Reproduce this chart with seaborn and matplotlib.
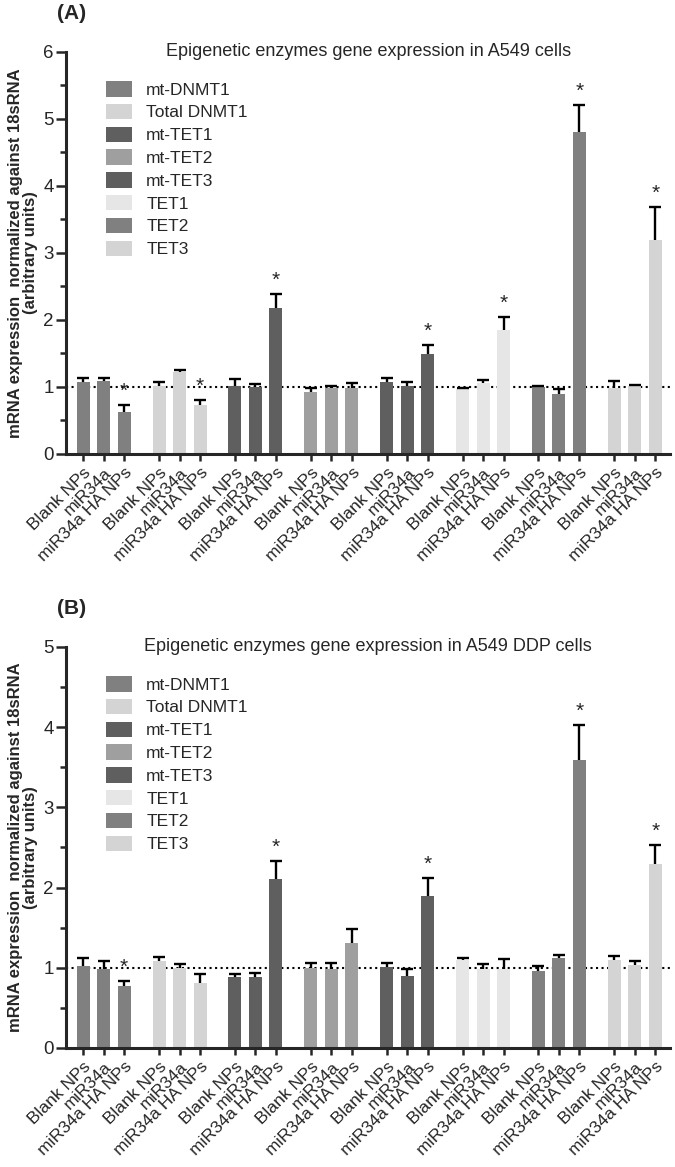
import numpy as np
import pandas as pd
import matplotlib
matplotlib.use('Agg')
import matplotlib.pyplot as plt
import seaborn as sns
from matplotlib.patches import Patch
from matplotlib.ticker import MultipleLocator

sns.set_style('ticks')
plt.rcParams['font.family'] = ['Liberation Sans', 'DejaVu Sans']

# Genes (one group of 3 bars each) and treatments
genes = ["mt-DNMT1", "Total DNMT1", "mt-TET1", "mt-TET2", "mt-TET3", "TET1", "TET2", "TET3"]
treatments = ["Blank NPs", "miR34a", "miR34a HA NPs"]
gene_colors = ["#808080", "#d4d4d4", "#5f5f5f", "#9f9f9f", "#5f5f5f", "#e6e6e6", "#808080", "#d4d4d4"]

# (A) A549 cells
a_mean = [1.08, 1.09, 0.63, 1.02, 1.22, 0.73, 1.02, 1.00, 2.18, 0.93, 0.99, 0.98,
          1.08, 1.02, 1.49, 0.97, 1.06, 1.85, 1.00, 0.90, 4.81, 0.99, 1.01, 3.19]
a_err = [0.05, 0.05, 0.10, 0.05, 0.03, 0.08, 0.10, 0.04, 0.21, 0.05, 0.02, 0.08,
         0.05, 0.05, 0.14, 0.02, 0.04, 0.19, 0.01, 0.07, 0.40, 0.10, 0.02, 0.50]
a_star = [0, 0, 1, 0, 0, 1, 0, 0, 1, 0, 0, 0, 0, 0, 1, 0, 0, 1, 0, 0, 1, 0, 0, 1]

# (B) A549 DDP cells
b_mean = [1.02, 0.99, 0.77, 1.08, 1.00, 0.81, 0.89, 0.89, 2.11, 1.00, 0.99, 1.31,
          1.01, 0.90, 1.89, 1.10, 0.99, 0.99, 0.96, 1.12, 3.59, 1.10, 1.03, 2.29]
b_err = [0.10, 0.09, 0.06, 0.05, 0.05, 0.11, 0.03, 0.04, 0.22, 0.06, 0.07, 0.17,
         0.05, 0.09, 0.23, 0.02, 0.06, 0.12, 0.06, 0.04, 0.44, 0.05, 0.06, 0.24]
b_star = [0, 0, 1, 0, 0, 0, 0, 0, 1, 0, 0, 0, 0, 0, 1, 0, 0, 0, 0, 0, 1, 0, 0, 1]

group_step = 3.7  # distance between groups in bar units


def make_df(mean, err):
    rows = []
    for k, g in enumerate(genes):
        for i, t in enumerate(treatments):
            rows.append({'gene': g, 'treatment': t, 'pos': k * group_step + i,
                         'value': mean[k * 3 + i], 'err': err[k * 3 + i]})
    return pd.DataFrame(rows)


def draw_panel(ax, df, stars, title, ymax, letter):
    sns.barplot(data=df, x='pos', y='value', hue='gene', hue_order=genes,
                palette=gene_colors, native_scale=True, dodge=False, width=0.63,
                linewidth=0, errorbar=None, legend=False, ax=ax)
    # upper-only error bars (hide the lower cap)
    _, caps, _ = ax.errorbar(df['pos'], df['value'], yerr=[np.zeros(len(df)), df['err']],
                             fmt='none', ecolor='black', elinewidth=1.7, capsize=4,
                             capthick=1.7, zorder=3)
    caps[0].set_visible(False)
    for p, v, e, s in zip(df['pos'], df['value'], df['err'], stars):
        if s:
            ax.annotate('*', (p, v + e), xytext=(0, 3), textcoords='offset points',
                        ha='center', va='bottom', fontsize=15)
    ax.axhline(1, color='black', linestyle=':', linewidth=1.5, zorder=0)

    ax.set_xlim(-0.83, df['pos'].max() + 0.73)
    ax.set_ylim(0, ymax)
    ax.yaxis.set_major_locator(MultipleLocator(1))
    ax.yaxis.set_minor_locator(MultipleLocator(0.5))
    ax.set_xticks(df['pos'])
    ax.set_xticklabels(df['treatment'], rotation=45, ha='right', rotation_mode='anchor',
                       fontsize=12.5)
    ax.tick_params(axis='x', length=5, width=1.8, pad=3)
    ax.tick_params(axis='y', which='major', length=7, width=1.8, labelsize=13.5, pad=2)
    ax.tick_params(axis='y', which='minor', length=4, width=1.8)
    for sp in ['left', 'bottom']:
        ax.spines[sp].set_linewidth(2.2)
    sns.despine(ax=ax)
    ax.set_xlabel('')
    ax.set_ylabel('mRNA expression  normalized against 18sRNA\n(arbitrary units)',
                  fontsize=12, fontweight='bold', labelpad=4, linespacing=0.95)
    ax.text(0.5, 1.0, title, transform=ax.transAxes, ha='center', va='center', fontsize=13)

    handles = [Patch(facecolor=c, edgecolor='none', label=g) for g, c in zip(genes, gene_colors)]
    ax.legend(handles=handles, loc='upper left', bbox_to_anchor=(0.055, 0.945), frameon=False,
              fontsize=12.5, handlelength=1.5, handleheight=1.0, handletextpad=0.8,
              labelspacing=0.35, borderaxespad=0)
    ax.text(-0.015, 1.095, letter, transform=ax.transAxes, ha='left', va='center',
            fontsize=15, fontweight='bold')


fig = plt.figure(figsize=(6.75, 11.67), dpi=100)
ax_a = fig.add_axes([0.098, 0.611, 0.895, 0.3445])
ax_b = fig.add_axes([0.098, 0.102, 0.895, 0.3436])

draw_panel(ax_a, make_df(a_mean, a_err), a_star,
           'Epigenetic enzymes gene expression in A549 cells', 6, '(A)')
draw_panel(ax_b, make_df(b_mean, b_err), b_star,
           'Epigenetic enzymes gene expression in A549 DDP cells', 5, '(B)')

fig.savefig('out.png', dpi=100)
